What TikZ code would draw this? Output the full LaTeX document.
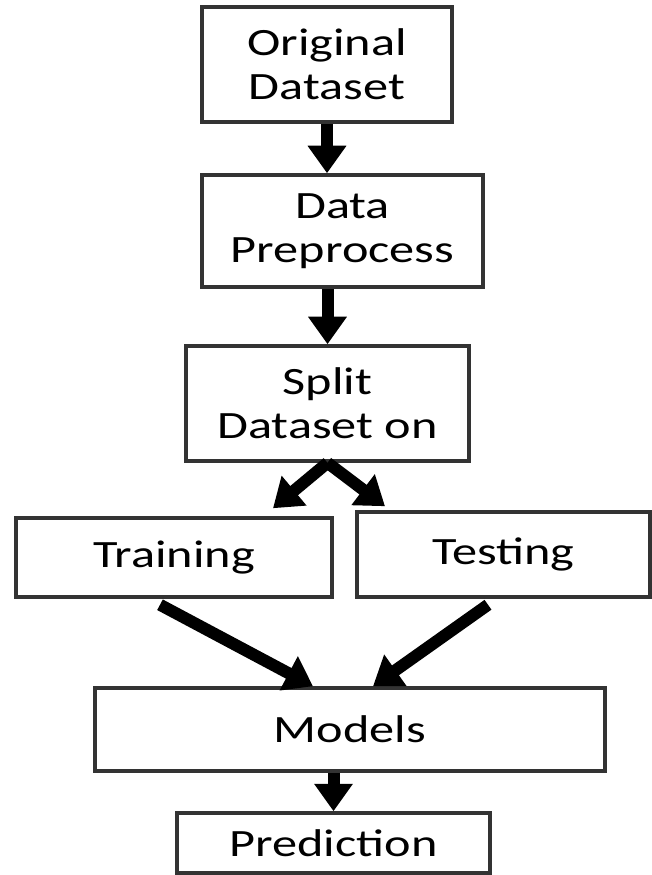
\documentclass[tikz,border=0pt]{standalone}
\usepackage{fontspec}
\setmainfont{Carlito}[FakeStretch=1.3]
\usetikzlibrary{arrows.meta}

\begin{document}
\begin{tikzpicture}[>={Triangle[length=0.55cm,width=0.74cm]},
  box/.style={draw=black!80,line width=2pt,fill=white,align=center,inner sep=0pt,
    font=\fontsize{22}{25}\selectfont},
  arr/.style={->,line width=0.24cm}]
\useasboundingbox (0,0) rectangle (13.02,-17.5);

\node[box,minimum width=5.0cm,minimum height=2.3cm] (orig) at (6.54,-1.29) {Original\\Dataset};
\node[box,minimum width=5.62cm,minimum height=2.24cm] (prep) at (6.85,-4.62) {Data\\Preprocess};
\node[box,minimum width=5.66cm,minimum height=2.3cm] (split) at (6.55,-8.07) {Split\\Dataset on};

\node[box,minimum width=6.32cm,minimum height=1.58cm] (train) at (3.48,-11.15) {Training};
\node[box,minimum width=5.86cm,minimum height=1.7cm] (test) at (10.07,-11.09) {Testing};

\node[box,minimum width=10.2cm,minimum height=1.66cm] (models) at (7.0,-14.59) {Models};
\node[box,minimum width=6.26cm,minimum height=1.2cm] (pred) at (6.67,-16.86) {Prediction};

\draw[arr] (orig.south) -- (prep.north -| orig.south);
\draw[arr] (prep.south -| split.north) -- (split.north);

\draw[arr] (split.south) -- ([xshift=1.98cm,yshift=0.16cm]train.north);
\draw[arr] (split.south) -- ([xshift=-2.37cm,yshift=0.08cm]test.north);

\draw[arr] ([xshift=-0.28cm,yshift=-0.12cm]train.south) -- ([xshift=-0.74cm]models.north);
\draw[arr] ([xshift=-0.31cm,yshift=-0.12cm]test.south) -- ([xshift=0.46cm]models.north);

\draw[arr] (models.south -| pred.north) -- (pred.north);
\end{tikzpicture}
\end{document}
